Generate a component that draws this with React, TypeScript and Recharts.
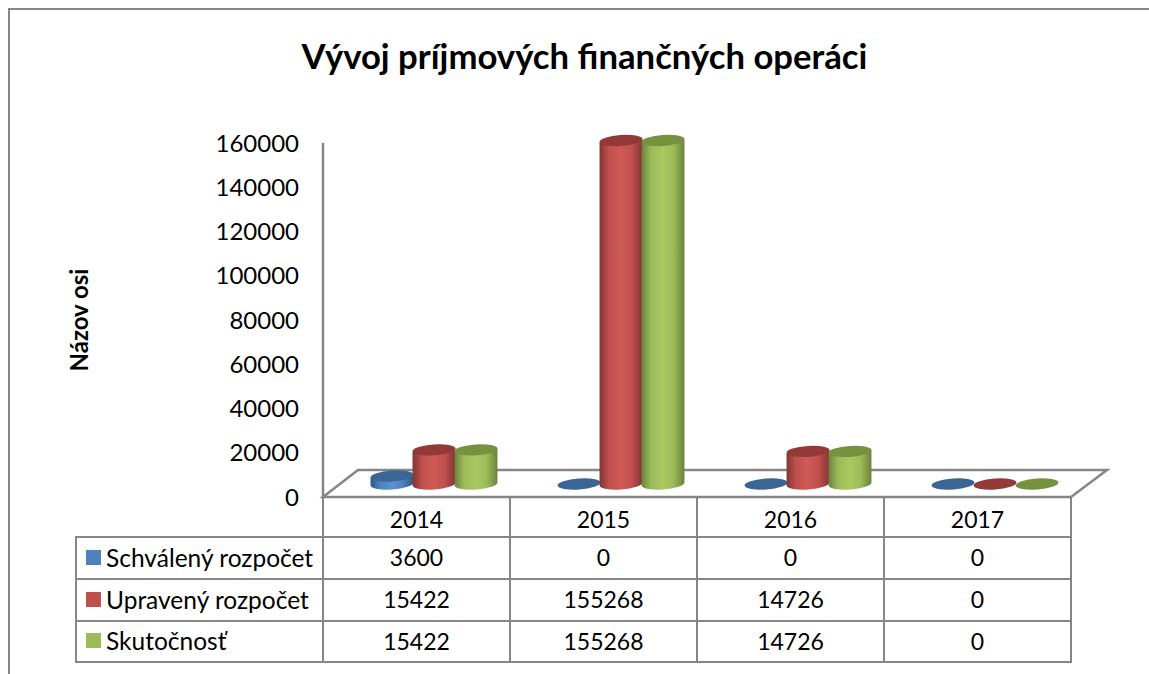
import { BarChart, Bar, XAxis, YAxis } from "recharts";

const years = ["2014", "2015", "2016", "2017"];
const schvaleny = [3600, 0, 0, 0];
const upraveny = [15422, 155268, 14726, 0];
const skutocnost = [15422, 155268, 14726, 0];
const yTicks = [0, 20000, 40000, 60000, 80000, 100000, 120000, 140000, 160000];

const FONT = "Lato, Carlito, Calibri, sans-serif";
const LINE = "#868686";

const seriesDefs = [
  { key: "schvaleny", name: "Schválený rozpočet", values: schvaleny, color: "#4F81BD", edge: "#2f5688", mid: "#5a93d6", top: "#3A6595" },
  { key: "upraveny", name: "Upravený rozpočet", values: upraveny, color: "#C0504D", edge: "#823533", mid: "#cf5a56", top: "#933A38" },
  { key: "skutocnost", name: "Skutočnosť", values: skutocnost, color: "#9BBB59", edge: "#6b823c", mid: "#a8ca60", top: "#76923F" },
];

const data = years.map((year, i) => ({
  year,
  schvaleny: schvaleny[i],
  upraveny: upraveny[i],
  skutocnost: skutocnost[i],
}));

// half of the floor depth, cylinders stand in the middle of it
const DEPTH_X = 17;
const DEPTH_Y = -13;
const RY = 5.5;
const TILT = 4;

const colX = [76, 323, 510, 697, 884, 1071];
const rowY = [497, 537, 579, 621, 662];

function cylinder(topColor: string, gradId: string) {
  return (props: any) => {
    const { x, y, width, height } = props;
    const cx = x + width / 2 + DEPTH_X;
    const rx = width / 2 + 0.5;
    const topY = y + DEPTH_Y;
    const botY = y + height + DEPTH_Y;
    const rad = (TILT * Math.PI) / 180;
    const ex = rx * Math.cos(rad);
    const ey = rx * Math.sin(rad);
    const body =
      `M${cx - ex},${topY + ey} L${cx - ex},${botY + ey} ` +
      `A${rx},${RY} ${-TILT} 0 0 ${cx + ex},${botY - ey} L${cx + ex},${topY - ey} Z`;
    return (
      <g>
        {height > 0 && <path d={body} fill={`url(#${gradId})`} />}
        <ellipse
          cx={cx}
          cy={topY}
          rx={rx}
          ry={RY}
          fill={topColor}
          transform={`rotate(${-TILT} ${cx} ${topY})`}
        />
      </g>
    );
  };
}

function DataTable() {
  const cell = (left: number, top: number, w: number, h: number, content: any, align = "center", pad = 0, size = 23) => (
    <div
      key={`${left}-${top}`}
      style={{
        position: "absolute",
        left: left - 1,
        top: top - 1,
        width: w,
        height: h - Math.abs(pad),
        paddingTop: pad > 0 ? pad : 0,
        paddingBottom: pad < 0 ? -pad : 0,
        boxSizing: "content-box",
        border: `2px solid ${LINE}`,
        display: "flex",
        alignItems: "center",
        justifyContent: align,
        fontSize: size,
        color: "#000",
        whiteSpace: "nowrap",
      }}
    >
      {content}
    </div>
  );
  return (
    <>
      {years.map((year, c) =>
        cell(colX[c + 1], rowY[0], colX[c + 2] - colX[c + 1] - 2, rowY[1] - rowY[0] - 2, year, "center", 3),
      )}
      {seriesDefs.map((s, r) => (
        <div key={s.key}>
          {cell(
            colX[0],
            rowY[r + 1],
            colX[1] - colX[0] - 2,
            rowY[r + 2] - rowY[r + 1] - 2,
            <>
              <span
                style={{
                  display: "inline-block",
                  width: 15,
                  height: 15,
                  background: s.color,
                  marginLeft: 9,
                  marginRight: 5,
                  flexShrink: 0,
                }}
              />
              <span>{s.name}</span>
            </>,
            "flex-start",
            -2,
            24.5,
          )}
          {s.values.map((v, c) =>
            cell(colX[c + 1], rowY[r + 1], colX[c + 2] - colX[c + 1] - 2, rowY[r + 2] - rowY[r + 1] - 2, v, "center", -2),
          )}
        </div>
      ))}
    </>
  );
}

export default function App() {
  return (
    <div
      style={{
        position: "absolute",
        left: 0,
        top: 0,
        width: 1149,
        height: 674,
        background: "#fff",
        overflow: "hidden",
        fontFamily: FONT,
      }}
    >
      {/* outer frame, only top and left are in the picture */}
      <div style={{ position: "absolute", left: 8, top: 8, width: 1141, height: 666, borderTop: `2px solid ${LINE}`, borderLeft: `2px solid ${LINE}` }} />

      <div style={{ position: "absolute", left: 0, width: 1169, top: 35, textAlign: "center", fontSize: 34.7, fontWeight: 700, color: "#000" }}>
        Vývoj príjmových finančných operáci
      </div>

      {/* floor of the 3D plot, sits under the cylinders */}
      <svg width={1149} height={674} style={{ position: "absolute", left: 0, top: 0 }}>
        <polygon points="323,497 358,470 1107,470 1071,497" fill="#fff" stroke={LINE} strokeWidth={2.5} />
      </svg>

      <div style={{ position: "absolute", left: 0, top: 0 }}>
        <BarChart
          width={1149}
          height={674}
          data={data}
          barSize={42}
          barGap={0}
          margin={{ top: 143, right: 78, bottom: 177, left: 60 }}
        >
          <defs>
            {seriesDefs.map((s) => (
              <linearGradient key={s.key} id={`cyl-${s.key}`} x1="0" y1="0" x2="1" y2="0">
                <stop offset="0%" stopColor={s.edge} />
                <stop offset="22%" stopColor={s.color} />
                <stop offset="50%" stopColor={s.mid} />
                <stop offset="75%" stopColor={s.color} />
                <stop offset="100%" stopColor={s.edge} />
              </linearGradient>
            ))}
          </defs>
          <XAxis dataKey="year" hide />
          <YAxis
            width={263}
            domain={[0, 160000]}
            ticks={yTicks}
            interval={0}
            tickLine={false}
            tickMargin={18}
            axisLine={{ stroke: LINE, strokeWidth: 2.5 }}
            tick={{ fontSize: 24, fill: "#000", fontFamily: FONT }}
            label={{
              value: "Názov osi",
              angle: -90,
              position: "insideLeft",
              offset: 19,
              style: { fontSize: 24, fontWeight: 700, fill: "#000", fontFamily: FONT, textAnchor: "middle" },
            }}
          />
          {seriesDefs.map((s) => (
            <Bar
              key={s.key}
              dataKey={s.key}
              name={s.name}
              isAnimationActive={false}
              shape={cylinder(s.top, `cyl-${s.key}`)}
            />
          ))}
        </BarChart>
      </div>

      <DataTable />
    </div>
  );
}
